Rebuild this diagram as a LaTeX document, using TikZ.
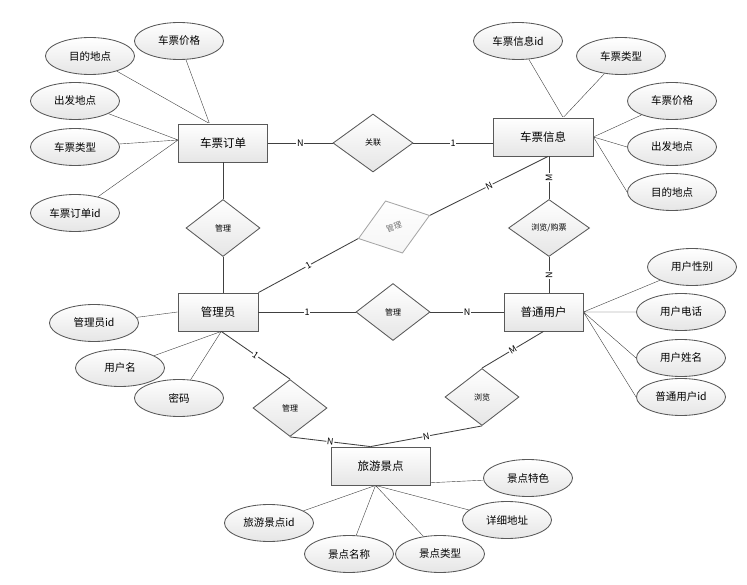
\documentclass[tikz,border=0pt]{standalone}
\usepackage{fontspec}
\setmainfont{Noto Sans CJK SC}
\usetikzlibrary{calc,positioning,shapes.geometric,backgrounds}

\begin{document}
\begin{tikzpicture}[%
    x=1pt, y=-1pt, line width=0.85pt,
    entity/.style={draw=black!65, rectangle, minimum height=38pt, inner sep=0pt,
        top color=white, bottom color=black!10, font=\fontsize{11.5}{12}\selectfont},
    attr/.style={draw=black!65, ellipse, minimum width=89pt, minimum height=37pt, inner sep=0pt,
        top color=white, bottom color=black!10, font=\fontsize{10.5}{11}\selectfont},
    rel/.style={draw=black!65, diamond, minimum width=74pt, minimum height=57pt, inner sep=0pt,
        top color=white, bottom color=black!10, font=\fontsize{8}{8}\selectfont},
    lbl/.style={fill=white, inner sep=0.6pt, font=\fontsize{9}{9}\selectfont},
    link/.style={draw=black!75}]
    \useasboundingbox (0,0) rectangle (747,585);

    % entities
    \node[entity, minimum width=89pt] (Order) at (223,143) {车票订单};
    \node[entity, minimum width=100pt] (Ticket) at (543,137) {车票信息};
    \node[entity, minimum width=80pt] (Admin) at (218,312) {管理员};
    \node[entity, minimum width=79pt] (User) at (543.5,312) {普通用户};
    \node[entity, minimum width=99pt] (Spot) at (380.5,466) {旅游景点};

    % relations
    \node[rel, minimum width=80pt, minimum height=58pt] (Link) at (373,143) {关联};
    \node[rel] (ManOrder) at (223,228) {管理};
    \node[rel, draw=black!35, text=black!55, top color=white, bottom color=black!4,
        minimum width=75pt, minimum height=55pt, rotate=18] (ManTicket) at (394,227) {管理};
    \node[rel, minimum width=81pt] (Buy) at (549,228) {浏览/购票};
    \node[rel] (ManUser) at (393,312) {管理};
    \node[rel] (ManSpot) at (290,408) {管理};
    \node[rel] (Browse) at (482,397) {浏览};

    % attributes
    \node[attr] (OrdPrice) at (179,41) {车票价格};
    \node[attr] (OrdDest) at (90,56) {目的地点};
    \node[attr] (OrdStart) at (75,101) {出发地点};
    \node[attr] (OrdType) at (75,147) {车票类型};
    \node[attr] (OrdId) at (75,213) {车票订单id};
    \node[attr] (TicId) at (518,41) {车票信息id};
    \node[attr] (TicType) at (621,56) {车票类型};
    \node[attr] (TicPrice) at (672,101) {车票价格};
    \node[attr] (TicStart) at (672,147) {出发地点};
    \node[attr] (TicDest) at (672,192) {目的地点};
    \node[attr] (UsrSex) at (692,267) {用户性别};
    \node[attr] (UsrTel) at (681,312) {用户电话};
    \node[attr] (UsrName) at (681,358) {用户姓名};
    \node[attr] (UsrId) at (681,397) {普通用户id};
    \node[attr] (AdmId) at (94,323) {管理员id};
    \node[attr] (AdmName) at (120,368) {用户名};
    \node[attr] (AdmPwd) at (179,398) {密码};
    \node[attr] (SpotFeat) at (528,478) {景点特色};
    \node[attr] (SpotAddr) at (507,520) {详细地址};
    \node[attr] (SpotType) at (440,554) {景点类型};
    \node[attr] (SpotName) at (349,554) {景点名称};
    \node[attr] (SpotId) at (269,523) {旅游景点id};

    % meeting points on the boxes
    \coordinate (OrdTop) at ($(Order.north west)!0.35!(Order.north east)$);
    \coordinate (OrdWest) at ($(Order.west)+(0,-3)$);
    \coordinate (TicTop) at ($(Ticket.north west)!0.7!(Ticket.north east)$);
    \coordinate (TicBot) at ($(Ticket.south west)!0.55!(Ticket.south east)$);
    \coordinate (AdmBot) at ($(Admin.south west)!0.54!(Admin.south east)$);
    \coordinate (SpotTop) at ($(Spot.north west)!0.4!(Spot.north east)$);
    \coordinate (SpotBot) at ($(Spot.south west)!0.45!(Spot.south east)$);

    \begin{scope}[on background layer]
    % attribute lines
    \draw[link] (OrdPrice) -- (OrdTop) (OrdDest) -- (OrdTop)
                (OrdStart) -- (OrdWest) (OrdType) -- (OrdWest) (OrdId) -- (OrdWest);
    \draw[link] (TicId) -- (TicTop) (TicType) -- (TicTop)
                (TicPrice) -- (Ticket.east) (TicStart.west) -- (Ticket.east) (TicDest.west) -- (Ticket.east);
    \draw[link] (UsrSex) -- (User.east) (UsrTel) -- (User.east)
                (UsrName.west) -- (User.east) (UsrId.west) -- (User.east);
    \draw[link] (AdmId) -- (Admin.west) (AdmName) -- (AdmBot) (AdmPwd) -- (AdmBot);
    \draw[link] (SpotFeat) -- (SpotBot) (SpotAddr) -- (SpotBot) (SpotType) -- (SpotBot)
                (SpotName) -- (SpotBot) (SpotId) -- (SpotBot);
    \end{scope}

    % relation lines
    \draw[link] (Order.east) -- node[lbl] {N} (Link.west);
    \draw[link] (Link.east) -- node[lbl] {1} (Link.east -| Ticket.west);
    \draw[link] (ManOrder.north |- Order.south) -- (ManOrder.north)
                (ManOrder.south) -- (ManOrder.south |- Admin.north);
    \draw[link] (Admin.north east) -- node[lbl, sloped] {1} (ManTicket.west);
    \draw[link] (ManTicket.east) -- node[lbl, sloped] {N} (TicBot);
    \draw[link] (Buy.north |- Ticket.south) -- node[lbl, rotate=90] {M} (Buy.north);
    \draw[link] (Buy.south) -- node[lbl, rotate=90] {N} (Buy.south |- User.north);
    \draw[link] (Admin.east) -- node[lbl] {1} (ManUser.west);
    \draw[link] (ManUser.east) -- node[lbl] {N} (User.west);
    \draw[link] (AdmBot) -- node[lbl, sloped] {1} (ManSpot.north);
    \draw[link] (ManSpot.south) -- node[lbl, sloped] {N} (SpotTop);
    \draw[link] (User.south) -- node[lbl, sloped] {M} (Browse.north);
    \draw[link] (Browse.south) -- node[lbl, sloped] {N} (SpotTop);
\end{tikzpicture}
\end{document}
